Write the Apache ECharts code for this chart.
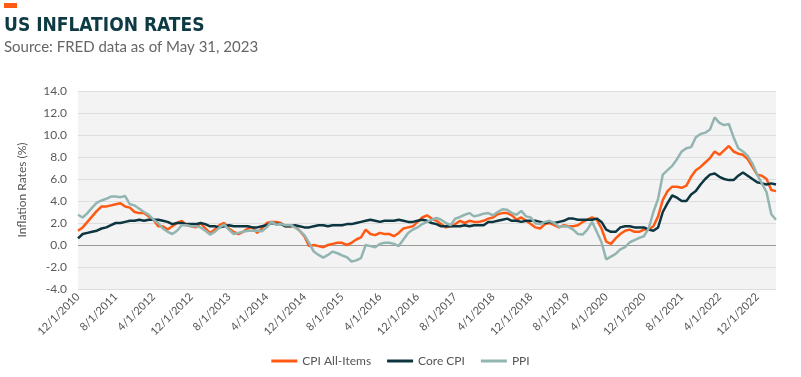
<!DOCTYPE html>
<html>
<head>
<meta charset="utf-8">
<script src="https://cdn.jsdelivr.net/npm/echarts@6/dist/echarts.min.js"></script>
<style>
  html, body { margin: 0; padding: 0; background: #fff; }
  #chart { width: 801px; height: 377px; }
</style>
</head>
<body>
<div id="chart"></div>
<script>
// monthly year-over-year rates, 12/2010 .. 4/2023
const startYear = 2010, startMonth = 12, monthCount = 149;

const cpiAll = [
  1.3,
  1.6, 2.1, 2.6, 3.1, 3.5, 3.5, 3.6, 3.7, 3.8, 3.5, 3.4, 3.0,
  2.9, 2.9, 2.6, 2.3, 1.7, 1.7, 1.4, 1.7, 2.0, 2.2, 1.8, 1.7,
  1.6, 2.0, 1.5, 1.1, 1.4, 1.8, 2.0, 1.5, 1.2, 1.0, 1.2, 1.5,
  1.6, 1.1, 1.5, 2.0, 2.1, 2.1, 2.0, 1.7, 1.7, 1.7, 1.3, 0.8,
  -0.1, 0.0, -0.1, -0.2, 0.0, 0.1, 0.2, 0.2, 0.0, 0.2, 0.5, 0.7,
  1.4, 1.0, 0.9, 1.1, 1.0, 1.0, 0.8, 1.1, 1.5, 1.6, 1.7, 2.1,
  2.5, 2.7, 2.4, 2.2, 1.9, 1.6, 1.7, 1.9, 2.2, 2.0, 2.2, 2.1,
  2.1, 2.2, 2.4, 2.5, 2.8, 2.9, 2.9, 2.7, 2.3, 2.5, 2.2, 1.9,
  1.6, 1.5, 1.9, 2.0, 1.8, 1.6, 1.8, 1.7, 1.7, 1.8, 2.1, 2.3,
  2.5, 2.3, 1.5, 0.3, 0.1, 0.6, 1.0, 1.3, 1.4, 1.2, 1.2, 1.4,
  1.4, 1.7, 2.6, 4.1, 4.9, 5.3, 5.3, 5.2, 5.4, 6.2, 6.8, 7.1,
  7.5, 7.9, 8.5, 8.2, 8.6, 9.0, 8.5, 8.3, 8.2, 7.8, 7.1, 6.4,
  6.3, 6.0, 5.0, 4.9
];

const coreCpi = [
  0.6,
  1.0, 1.1, 1.2, 1.3, 1.5, 1.6, 1.8, 2.0, 2.0, 2.1, 2.2, 2.2,
  2.3, 2.2, 2.3, 2.3, 2.3, 2.2, 2.1, 1.9, 2.0, 2.0, 1.9, 1.9,
  1.9, 2.0, 1.9, 1.7, 1.7, 1.6, 1.7, 1.8, 1.7, 1.7, 1.7, 1.7,
  1.6, 1.6, 1.7, 1.8, 2.0, 1.9, 1.9, 1.7, 1.7, 1.8, 1.7, 1.6,
  1.6, 1.7, 1.8, 1.8, 1.7, 1.8, 1.8, 1.8, 1.9, 1.9, 2.0, 2.1,
  2.2, 2.3, 2.2, 2.1, 2.2, 2.2, 2.2, 2.3, 2.2, 2.1, 2.1, 2.2,
  2.3, 2.2, 2.0, 1.9, 1.7, 1.7, 1.7, 1.7, 1.7, 1.8, 1.7, 1.8,
  1.8, 1.8, 2.1, 2.1, 2.2, 2.3, 2.4, 2.2, 2.2, 2.1, 2.2, 2.2,
  2.2, 2.1, 2.0, 2.1, 2.0, 2.1, 2.2, 2.4, 2.4, 2.3, 2.3, 2.3,
  2.3, 2.4, 2.1, 1.4, 1.2, 1.2, 1.6, 1.7, 1.7, 1.6, 1.6, 1.6,
  1.4, 1.3, 1.6, 3.0, 3.8, 4.5, 4.3, 4.0, 4.0, 4.6, 4.9, 5.5,
  6.0, 6.4, 6.5, 6.2, 6.0, 5.9, 5.9, 6.3, 6.6, 6.3, 6.0, 5.7,
  5.6, 5.5, 5.6, 5.5
];

const ppi = [
  2.75,
  2.5, 2.9, 3.4, 3.85, 4.05, 4.2, 4.4, 4.4, 4.35, 4.45, 3.7, 3.6,
  3.3, 3.0, 2.75, 2.3, 2.0, 1.5, 1.2, 1.0, 1.3, 1.8, 1.8, 1.7,
  1.7, 1.6, 1.3, 0.95, 1.2, 1.6, 1.85, 1.4, 1.0, 1.1, 1.2, 1.3,
  1.3, 1.3, 1.25, 1.6, 2.1, 1.85, 1.9, 1.8, 1.8, 1.6, 1.3, 0.9,
  0.2, -0.6, -0.9, -1.15, -0.9, -0.6, -0.75, -0.95, -1.1, -1.5, -1.4, -1.2,
  0.0, -0.1, -0.2, 0.1, 0.2, 0.2, 0.1, -0.1, 0.5, 1.1, 1.4, 1.6,
  1.9, 2.1, 2.3, 2.45, 2.3, 2.0, 1.8, 2.4, 2.55, 2.75, 2.9, 2.6,
  2.7, 2.85, 2.9, 2.7, 3.0, 3.25, 3.2, 2.9, 2.75, 3.1, 2.6, 2.5,
  1.95, 1.9, 2.1, 2.2, 2.0, 1.65, 1.7, 1.65, 1.4, 1.0, 0.95, 1.4,
  2.1, 1.2, 0.25, -1.3, -1.05, -0.8, -0.4, -0.2, 0.25, 0.45, 0.65, 0.8,
  1.5, 3.0, 4.2, 6.4, 6.8, 7.2, 7.8, 8.5, 8.8, 8.9, 9.8, 10.1,
  10.2, 10.5, 11.6, 11.1, 10.9, 11.0, 9.8, 8.8, 8.5, 8.1, 7.4, 6.4,
  5.6, 4.8, 2.8, 2.3
];

const seriesNames = ['CPI All-Items', 'Core CPI', 'PPI'];
const seriesColors = ['#ff5a14', '#0c3540', '#93b5b2'];

// category labels like 12/1/2010
const months = [];
for (let i = 0; i < monthCount; i++) {
  const m = (startMonth - 1 + i) % 12 + 1;
  const y = startYear + Math.floor((startMonth - 1 + i) / 12);
  months.push(m + '/1/' + y);
}

const labelFont = 'Lato, "Liberation Sans", sans-serif';

const chart = echarts.init(document.getElementById('chart'));

const lineSeries = (name, data, color) => ({
  name: name,
  type: 'line',
  data: data,
  showSymbol: false,
  symbol: 'none',
  lineStyle: { color: color, width: 2.5 },
  itemStyle: { color: color },
  z: 3
});

const option = {
  animation: false,
  backgroundColor: '#ffffff',
  title: {
    text: 'US INFLATION RATES',
    subtext: 'Source: FRED data as of May 31, 2023',
    left: 4,
    top: 17,
    padding: 0,
    itemGap: 4,
    textStyle: {
      fontFamily: '"Liberation Sans Narrow", "DejaVu Sans Condensed", sans-serif',
      fontWeight: 'bold',
      fontSize: 19,
      color: '#0e3b43'
    },
    subtextStyle: {
      fontFamily: labelFont,
      fontSize: 15,
      color: '#666666'
    }
  },
  graphic: [{
    type: 'rect',
    left: 4,
    top: 3,
    shape: { width: 13, height: 5 },
    style: { fill: '#ff5a14' }
  }],
  legend: {
    bottom: 5,
    left: 'center',
    icon: 'rect',
    itemWidth: 26,
    itemHeight: 3,
    itemGap: 16,
    textStyle: { fontFamily: labelFont, fontSize: 12, color: '#555555' },
    data: seriesNames
  },
  grid: {
    left: 78,
    right: 25,
    top: 91,
    bottom: 88,
    show: true,
    backgroundColor: '#f3f3f3',
    borderWidth: 0
  },
  xAxis: {
    type: 'category',
    data: months,
    boundaryGap: false,
    axisLine: { show: false, onZero: false },
    axisTick: { show: false },
    splitLine: { show: false },
    axisLabel: {
      interval: 7,
      rotate: 45,
      margin: 6,
      fontFamily: labelFont,
      fontSize: 11,
      color: '#555555'
    }
  },
  yAxis: {
    type: 'value',
    min: -4,
    max: 14,
    interval: 2,
    name: 'Inflation Rates (%)',
    nameLocation: 'middle',
    nameGap: 50,
    nameTextStyle: { fontFamily: labelFont, fontSize: 12, color: '#555555' },
    axisLine: { show: false },
    axisTick: { show: false },
    splitLine: { lineStyle: { color: '#dddddd', width: 1 } },
    axisLabel: {
      margin: 11,
      fontFamily: labelFont,
      fontSize: 12,
      color: '#595959',
      formatter: v => v.toFixed(1)
    }
  },
  series: [
    Object.assign(lineSeries(seriesNames[0], cpiAll, seriesColors[0]), {
      markLine: {
        silent: true,
        symbol: 'none',
        label: { show: false },
        lineStyle: { color: '#9a9a9a', type: 'solid', width: 1 },
        data: [{ yAxis: 0 }],
        z: 1
      }
    }),
    lineSeries(seriesNames[1], coreCpi, seriesColors[1]),
    lineSeries(seriesNames[2], ppi, seriesColors[2])
  ]
};

chart.setOption(option);
</script>
</body>
</html>
